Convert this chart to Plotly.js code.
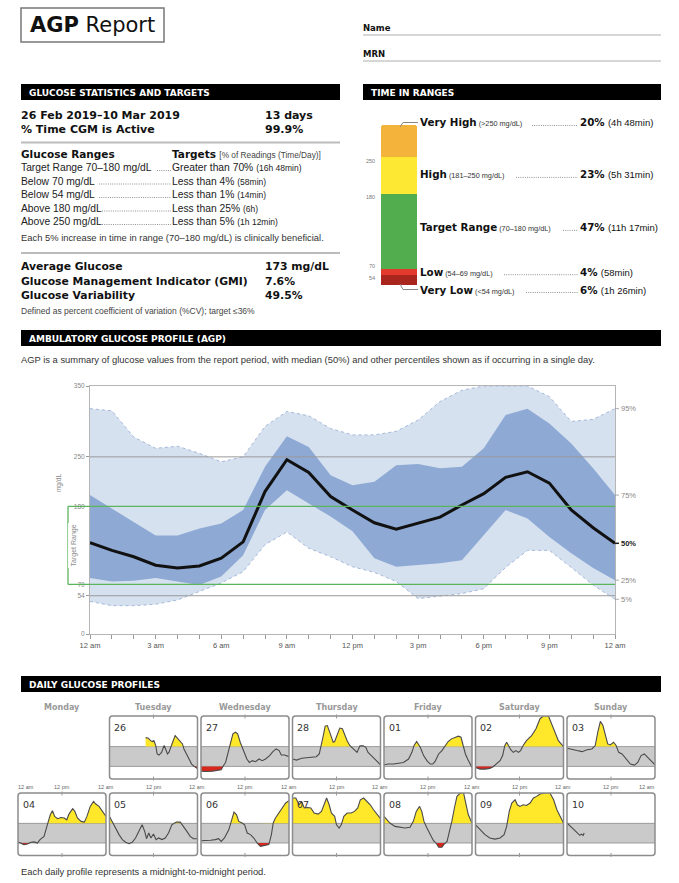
<!DOCTYPE html>
<html><head><meta charset="utf-8">
<script src="https://cdn.plot.ly/plotly-3.0.1.min.js"></script>
<style>html,body{margin:0;padding:0;background:#fff}#chart{width:679px;height:883px}</style>
</head><body><div id="chart"></div>
<script>
// ================= DATA =================
const reportPeriod = '26 Feb 2019–10 Mar 2019';
const reportDays = '13 days';
const cgmActive = '99.9%';
const rangeLabels = ['Target Range 70–180 mg/dL','Below 70 mg/dL','Below 54 mg/dL','Above 180 mg/dL','Above 250 mg/dL'];
const targetLabels = ['Greater than 70%','Less than 4%','Less than 1%','Less than 25%','Less than 5%'];
const targetTimes = ['(16h 48min)','(58min)','(14min)','(6h)','(1h 12min)'];
const summaryLabels = ['Average Glucose','Glucose Management Indicator (GMI)','Glucose Variability'];
const summaryValues = ['173 mg/dL','7.6%','49.5%'];

const tirNames = ['Very Low','Low','Target Range','High','Very High'];
const tirRanges = ['(&lt;54 mg/dL)','(54–69 mg/dL)','(70–180 mg/dL)','(181–250 mg/dL)','(&gt;250 mg/dL)'];
const tirPercent = [6,4,47,23,20];
const tirTimes = ['(1h 26min)','(58min)','(11h 17min)','(5h 31min)','(4h 48min)'];
const tirBoundLabels = ['54','70','180','250'];

const agpHours = [0,1,2,3,4,5,6,7,8,9,10,11,12,13,14,15,16,17,18,19,20,21,22,23,24];
const hourLabels = ['12 am','','','3 am','','','6 am','','','9 am','','','12 pm','','','3 pm','','','6 pm','','','9 pm','','','12 am'];
const agpTickVals = [0,54,70,180,250,350];
const p95 = [318,315,278,262,265,255,243,250,293,314,308,290,281,281,286,302,328,344,350,350,350,335,300,303,318];
const p75 = [196,177,158,139,139,149,156,175,236,279,264,224,210,215,238,240,234,236,262,309,318,297,269,234,196];
const p50 = [129,118,109,97,93,96,107,130,201,246,228,194,175,157,148,156,165,182,198,221,229,213,175,150,128];
const p25 = [79,74,75,79,74,69,81,111,175,203,184,166,145,107,95,97,100,104,140,175,163,137,114,93,76];
const p5  = [46,40,40,42,48,60,72,88,126,144,121,109,95,87,74,50,53,57,64,94,118,118,94,69,49];
const pctNames = ['95%','75%','50%','25%','5%'];

const weekdays = ['Monday','Tuesday','Wednesday','Thursday','Friday','Saturday','Sunday'];
const dayDates = ['26','27','28','01','02','03','04','05','06','07','08','09','10'];
const firstWeekday = 1; // Tuesday

const t26 = [9.85,10.6,11.2,11.7,12.1,12.6,13,13.5,14.2,14.9,15.3,15.8,16.2,16.7,17.2,17.9,18.5,19.2,19.9,20.3,21,21.7,22.4,23.1,23.7,24];
const g26 = [230,227,213,208,213,186,139,133,148,186,167,139,148,176,213,241,227,208,195,167,139,111,83,70,59,58];
const t27 = [0,1.4,3.2,4.3,5.5,6.1,6.7,7.3,7.9,8.7,9.4,10,10.7,11.2,11.9,12.5,13.2,14,14.9,15.8,16.7,17.6,18.7,19.6,20.5,21.3,21.9,22.8,24];
const g27 = [44,42,44,46,51,74,92,139,195,251,260,251,204,176,139,111,92,102,96,111,102,111,130,152,167,158,133,133,124];
const t28 = [0,1.1,2.5,3.8,5.2,6.5,7.3,7.9,8.4,8.9,9.5,10,10.7,11.1,11.5,12.2,12.9,13.6,14.3,14.9,15.6,16.4,17,17.6,18.4,19.3,20,20.6,21.5,22.5,23.4,24];
const g28 = [111,105,115,117,120,124,139,186,241,294,297,269,232,204,208,251,283,279,241,213,186,171,158,148,184,184,176,148,130,111,92,79];
const t01 = [0,1.2,2.6,3.9,5.3,6.7,7.6,8.2,8.9,9.6,10,10.8,11.7,12.6,13.3,13.9,14.9,15.8,16.7,17.5,18.4,19.4,20.3,21,21.5,22.2,22.8,23.5,24];
const g01 = [79,83,83,87,92,111,148,186,208,186,171,130,102,83,83,96,139,158,186,208,223,232,238,232,186,139,111,79,64];
const t02 = [0,1.2,2.6,3.9,4.8,5.7,6.7,7.4,8,8.5,8.9,9.6,10.3,11,11.7,12.3,13,13.9,15.3,16.5,17.6,18.5,19.9,20.8,21.7,22.6,24];
const g02 = [64,55,55,59,68,83,102,130,186,204,186,163,148,158,148,158,186,213,241,279,335,350,350,307,260,213,180];
const t03 = [0,1.4,2.7,4.1,5.5,6.8,7.7,8.4,9.1,9.8,10.5,11.1,11.8,12.7,13.4,14.1,15,16.2,17.3,18.4,19.3,20.2,21.1,22,23.2,24];
const g03 = [171,163,158,152,163,167,186,260,320,297,232,195,189,204,186,148,139,111,83,77,92,130,139,120,92,79];
const t04 = [0,0.7,1.6,2.6,3.5,4.4,5.3,6,7.1,8,8.8,9.4,10,10.8,11.7,12.6,13.3,13.9,14.9,15.5,16.2,17.2,18.1,18.8,19.7,20.6,21.2,22.1,23,24];
const g04 = [76,70,61,64,74,76,70,89,107,172,228,251,219,206,213,210,200,232,262,247,210,191,187,219,275,303,288,275,251,219];
const t05 = [0,0.7,1.6,2.6,3.5,4.4,5.3,6.2,7.1,8,8.9,9.6,10.1,10.7,11.3,12,12.7,13.4,14.3,15.2,16.1,17,18.2,19.3,20.2,21.1,22,22.9,24];
const g05 = [219,191,154,117,89,74,66,74,98,135,172,135,94,126,98,120,89,98,89,98,126,172,187,187,163,135,107,94,94];
const t06 = [0,1.2,2.6,3.9,4.8,5.5,6.4,7.6,8.2,9,9.7,10.3,11.2,11.9,12.6,13.5,14.4,15.3,16.2,17.2,18.5,19.2,19.7,20.3,21.3,22.2,23.1,24];
const g06 = [83,83,85,89,94,79,98,145,191,243,228,191,182,172,126,117,98,70,51,57,61,117,182,210,238,269,294,307];
const t07 = [0,0.9,1.8,2.5,3.2,4.1,5,5.9,7,7.9,8.6,9.3,10,10.6,11.5,12,12.7,13.3,14,14.9,16,16.9,17.8,18.5,19.4,20.3,21.2,22.1,23.2,24];
const g07 = [322,322,284,303,266,269,266,238,232,247,284,322,284,238,219,172,154,172,219,238,238,247,266,312,322,303,284,256,228,206];
const t08 = [0,0.7,1.6,3,4.4,5.7,7.1,8,8.8,9.7,10.3,10.9,11.7,12.6,13.5,14.2,14.9,15.8,16.4,17.2,17.9,18.5,19.2,19.9,20.8,21.7,22.4,23,24];
const g08 = [219,200,182,163,158,154,158,191,247,275,247,191,154,117,83,70,46,46,64,79,135,191,266,331,350,350,284,228,182];
const t09 = [0,1.2,2.6,3.9,5.3,6.7,7.8,8.5,9.2,9.9,10.8,11.4,12.1,13,13.9,14.9,15.8,16.7,17.6,19,20.3,21.3,22.2,23.1,24];
const g09 = [172,145,117,98,92,98,117,163,247,294,312,284,275,284,280,294,322,331,344,350,350,312,256,219,182];
const t10 = [0,0.9,1.8,2.7,3.5,3.9,4.4,4.7];
const g10 = [182,163,145,126,113,120,113,126];
const dayTimes = [t26,t27,t28,t01,t02,t03,t04,t05,t06,t07,t08,t09,t10];
const dayGlucose = [g26,g27,g28,g01,g02,g03,g04,g05,g06,g07,g08,g09,g10];

// ================= HELPERS =================
const W = 679, H = 883;
const px = x => x / W;
const py = y => 1 - y / H;
const DV = 'DejaVu Sans';
const LS = 'Liberation Sans, Arial, sans-serif';
const annotations = [];
const shapes = [];
const traces = [];
const DOTS = '1px,1.2px';

function ann(x, y, text, size, o = {}) {
  annotations.push(Object.assign({
    xref: 'paper', yref: 'paper', x: px(x), y: py(y), text: text, showarrow: false,
    xanchor: 'left', yanchor: 'middle', borderpad: 0, borderwidth: 0,
    font: {family: o.family || DV, size: size, color: o.color || '#111'}
  }, o.extra || {}));
}
function rectPx(x0, y0, x1, y1, o = {}) {
  shapes.push(Object.assign({type: 'rect', xref: 'paper', yref: 'paper', x0: px(x0), x1: px(x1), y0: py(y1), y1: py(y0),
    fillcolor: o.fill || 'rgba(0,0,0,0)', line: {color: o.lc || 'rgba(0,0,0,0)', width: o.lw || 0}, layer: 'above'}));
}
function linePx(x0, y0, x1, y1, color, width, dash) {
  shapes.push({type: 'line', xref: 'paper', yref: 'paper', x0: px(x0), y0: py(y0), x1: px(x1), y1: py(y1),
    line: {color: color, width: width, dash: dash || 'solid'}, layer: 'above'});
}
function rrPath(x0, y0, x1, y1, r) {
  const X = v => px(v).toFixed(5), Y = v => py(v).toFixed(5);
  return `M${X(x0+r)},${Y(y0)} L${X(x1-r)},${Y(y0)} Q${X(x1)},${Y(y0)} ${X(x1)},${Y(y0+r)} L${X(x1)},${Y(y1-r)} Q${X(x1)},${Y(y1)} ${X(x1-r)},${Y(y1)} L${X(x0+r)},${Y(y1)} Q${X(x0)},${Y(y1)} ${X(x0)},${Y(y1-r)} L${X(x0)},${Y(y0+r)} Q${X(x0)},${Y(y0)} ${X(x0+r)},${Y(y0)} Z`;
}
// clip the region between the series and a threshold (geometry only)
function clipRegion(t, g, thr, above) {
  const xs = [], ys = [];
  for (let i = 0; i < t.length; i++) {
    if (i > 0) {
      const a = g[i-1] - thr, b = g[i] - thr;
      if (a * b < 0) { const f = a / (a - b); xs.push(t[i-1] + f * (t[i] - t[i-1])); ys.push(thr); }
    }
    xs.push(t[i]); ys.push(above ? Math.max(g[i], thr) : Math.min(g[i], thr));
  }
  xs.push(t[t.length-1], t[0]); ys.push(thr, thr);
  return {xs, ys};
}

// ================= HEADER =================
shapes.push({type: 'rect', xref: 'paper', yref: 'paper', x0: px(21), x1: px(164), y0: py(42), y1: py(8),
  line: {color: '#777', width: 1.5}, fillcolor: 'rgba(0,0,0,0)', layer: 'above'});
ann(92.5, 25, '<b>AGP</b> Report', 21, {extra: {xanchor: 'center'}});
ann(363, 28, '<b>Name</b>', 8.5);
ann(363, 54, '<b>MRN</b>', 8.5);
linePx(363, 35, 661, 35, '#999', 0.8);
linePx(363, 61, 661, 61, '#999', 0.8);

const bars = [[21, 84, 340, 100, 'GLUCOSE STATISTICS AND TARGETS'], [363, 84, 661, 100, 'TIME IN RANGES'],
  [21, 330, 661, 346, 'AMBULATORY GLUCOSE PROFILE (AGP)'], [21, 676, 661, 692, 'DAILY GLUCOSE PROFILES']];
bars.forEach(b => { rectPx(b[0], b[1], b[2], b[3], {fill: '#000'}); ann(b[0] + 8, (b[1] + b[3]) / 2 + 0.5, '<b>' + b[4] + '</b>', 9, {color: '#fff'}); });

// ================= STATISTICS =================
ann(21, 115, '<b>' + reportPeriod + '</b>', 11);
ann(265, 115, '<b>' + reportDays + '</b>', 11);
ann(21, 129, '<b>% Time CGM is Active</b>', 11);
ann(265, 129, '<b>' + cgmActive + '</b>', 11);
linePx(21, 142.5, 340, 142.5, '#bbb', 2);
ann(21, 154, '<b>Glucose Ranges</b>', 10.5);
ann(172, 154, '<b>Targets</b> <span style="font-family:Liberation Sans;font-size:8.3px;color:#444">[% of Readings (Time/Day)]</span>', 10.5);
const rowY = [167.5, 181, 194.5, 208, 221.5];
const leaderStart = [157, 99, 99, 102, 102];
rangeLabels.forEach((lab, i) => {
  ann(21, rowY[i], lab, 10.3, {family: LS, color: '#222'});
  ann(172, rowY[i], targetLabels[i] + ' <span style="font-size:8.5px">' + targetTimes[i] + '</span>', 10.3, {family: LS, color: '#222'});
  linePx(leaderStart[i], rowY[i] + 3, 171, rowY[i] + 3, '#777', 0.8, DOTS);
});
ann(21, 237.5, 'Each 5% increase in time in range (70–180 mg/dL) is clinically beneficial.', 9.4, {family: LS, color: '#333'});
linePx(21, 253, 340, 253, '#bbb', 2);
const sumY = [267, 281, 295];
summaryLabels.forEach((lab, i) => {
  ann(21, sumY[i], '<b>' + lab + '</b>', 10.8);
  ann(265, sumY[i], '<b>' + summaryValues[i] + '</b>', 10.8);
});
ann(21, 311, 'Defined as percent coefficient of variation (%CV); target ≤36%', 8.5, {family: LS, color: '#444'});

// ================= TIME IN RANGES =================
const tirColors = ['#a8261d', '#e23b2e', '#52ad4f', '#fde934', '#f4b33a'];
tirPercent.forEach((v, i) => {
  traces.push({type: 'bar', x: [0], y: [v], width: [1], xaxis: 'x2', yaxis: 'y2',
    marker: {color: tirColors[i], line: {width: 0}}, hoverinfo: 'skip'});
});
const tirTop = 125, tirBot = 285;
const tirPx = v => tirBot - v / 100 * (tirBot - tirTop);
const cum = [0];
tirPercent.forEach(v => cum.push(cum[cum.length - 1] + v));
const boundShift = [2.5, -3, 3, 4];
tirBoundLabels.forEach((lab, i) => {
  ann(375, tirPx(cum[i + 1]) + boundShift[i], lab, 5.5, {family: LS, color: '#777', extra: {xanchor: 'right'}});
});
const labY = [tirPx(0) + 4.5, tirPx((cum[1] + cum[2]) / 2) - 0.5, tirPx((cum[2] + cum[3]) / 2) - 4, tirPx((cum[3] + cum[4]) / 2) - 1, tirPx(100) - 2.5];
const leaderFrom = [526, 504, 563, 516, 532];
tirNames.forEach((nm, i) => {
  ann(420, labY[i], '<b>' + nm + '</b><span style="font-family:Liberation Sans;font-size:7.3px;color:#333"> ' + tirRanges[i] + '</span>', 10.3);
  ann(580, labY[i], '<b>' + tirPercent[i] + '%</b> <span style="font-family:Liberation Sans;font-size:9.5px">' + tirTimes[i] + '</span>', 10.3);
  linePx(leaderFrom[i], labY[i] + 3, 578, labY[i] + 3, '#777', 0.8, DOTS);
});
shapes.push({type: 'path', xref: 'paper', yref: 'paper', layer: 'above', line: {color: '#888', width: 1}, fillcolor: 'rgba(0,0,0,0)',
  path: `M${px(400)},${py(tirTop + 2)} L${px(403)},${py(labY[4])} L${px(418)},${py(labY[4])}`});
shapes.push({type: 'path', xref: 'paper', yref: 'paper', layer: 'above', line: {color: '#888', width: 1}, fillcolor: 'rgba(0,0,0,0)',
  path: `M${px(400)},${py(tirBot - 1)} L${px(403)},${py(labY[0])} L${px(418)},${py(labY[0])}`});

// ================= AGP =================
ann(21, 360, 'AGP is a summary of glucose values from the report period, with median (50%) and other percentiles shown as if occurring in a single day.', 9.4, {family: LS, color: '#333'});
const bandEdge = '#a3b8d9';
traces.push({x: agpHours, y: p5, mode: 'lines', line: {color: bandEdge, width: 1, dash: 'dot'}, hoverinfo: 'skip'});
traces.push({x: agpHours, y: p95, mode: 'lines', fill: 'tonexty', fillcolor: '#d6e1f0', line: {color: bandEdge, width: 1, dash: 'dot'}, hoverinfo: 'skip'});
traces.push({x: agpHours, y: p25, mode: 'lines', line: {color: 'rgba(0,0,0,0)', width: 0}, hoverinfo: 'skip'});
traces.push({x: agpHours, y: p75, mode: 'lines', fill: 'tonexty', fillcolor: '#8eaad4', line: {color: 'rgba(0,0,0,0)', width: 0}, hoverinfo: 'skip'});
traces.push({x: agpHours, y: p50, mode: 'lines', line: {color: '#111', width: 3}, hoverinfo: 'skip'});
[250, 54].forEach(v => shapes.push({type: 'line', xref: 'x', yref: 'y', x0: 0, x1: 24, y0: v, y1: v, line: {color: '#9a9a9a', width: 1}, layer: 'above'}));
const green = '#5cb55c';
[70, 180].forEach(v => shapes.push({type: 'line', xref: 'paper', yref: 'y', x0: px(68), x1: px(615), y0: v, y1: v, line: {color: green, width: 1.3}, layer: 'above'}));
shapes.push({type: 'line', xref: 'paper', yref: 'y', x0: px(68), x1: px(68), y0: 70, y1: 180, line: {color: green, width: 1.3}, layer: 'above'});
annotations.push({xref: 'paper', yref: 'y', x: px(68), y: 125, text: 'Target Range', textangle: -90, showarrow: false,
  bgcolor: '#fff', borderpad: 1, font: {family: LS, size: 7, color: '#888'}});
annotations.push({xref: 'paper', yref: 'y', x: px(53), y: 213, text: 'mg/dL', textangle: -90, showarrow: false,
  font: {family: LS, size: 6.5, color: '#888'}});
const lastVals = [p95[24], p75[24], p50[24], p25[24], p5[24]];
pctNames.forEach((nm, i) => {
  const bold = nm === '50%';
  shapes.push({type: 'line', xref: 'paper', yref: 'y', x0: px(615), x1: px(619), y0: lastVals[i], y1: lastVals[i],
    line: {color: bold ? '#222' : '#999', width: bold ? 1.5 : 0.8}, layer: 'above'});
  annotations.push({xref: 'paper', yref: 'y', x: px(620), y: lastVals[i], text: bold ? '<b>' + nm + '</b>' : nm,
    showarrow: false, xanchor: 'left', yanchor: 'middle', borderpad: 0,
    font: {family: LS, size: 7.5, color: bold ? '#222' : '#888'}});
});

// ================= DAILY PROFILES =================
const colLeft = c => 18 + 91.5 * c;
const panelW = 88;
const rowTop = [716, 793], rowBot = [779, 855.5];
weekdays.forEach((d, c) => ann(colLeft(c) + panelW / 2, 707, '<b>' + d + '</b>', 8, {color: '#999', extra: {xanchor: 'center'}}));
const YEL = '#ffe82a', RED = '#d9261c';
const layoutAxes = {};
dayDates.forEach((dt, i) => {
  const slot = i + firstWeekday;
  const row = Math.floor(slot / 7), col = slot % 7;
  const l = colLeft(col), r = l + panelW, tp = rowTop[row], bt = rowBot[row];
  const n = i + 3, xa = 'x' + n, ya = 'y' + n;
  layoutAxes['xaxis' + n] = {domain: [px(l), px(r)], range: [0, 24], anchor: ya, visible: false, fixedrange: true};
  layoutAxes['yaxis' + n] = {domain: [py(bt), py(tp)], range: [0, 350], anchor: xa, visible: false, fixedrange: true};
  shapes.push({type: 'rect', xref: xa, yref: ya, x0: 0, x1: 24, y0: 70, y1: 180, fillcolor: '#cacaca', line: {width: 0}, layer: 'below'});
  [70, 180].forEach(v => shapes.push({type: 'line', xref: xa, yref: ya, x0: 0, x1: 24, y0: v, y1: v, line: {color: '#8a8a8a', width: 0.8}, layer: 'below'}));
  const t = dayTimes[i], g = dayGlucose[i];
  const hi = clipRegion(t, g, 180, true), lo = clipRegion(t, g, 70, false);
  traces.push({x: hi.xs, y: hi.ys, xaxis: xa, yaxis: ya, mode: 'lines', fill: 'toself', fillcolor: YEL, line: {width: 0, color: YEL}, hoverinfo: 'skip'});
  traces.push({x: lo.xs, y: lo.ys, xaxis: xa, yaxis: ya, mode: 'lines', fill: 'toself', fillcolor: RED, line: {width: 0, color: RED}, hoverinfo: 'skip'});
  traces.push({x: t, y: g, xaxis: xa, yaxis: ya, mode: 'lines', line: {color: '#4a4a4a', width: 1.1}, hoverinfo: 'skip'});
  shapes.push({type: 'path', xref: 'paper', yref: 'paper', path: rrPath(l, tp, r, bt, 3), line: {color: '#8c8c8c', width: 1.5}, fillcolor: 'rgba(0,0,0,0)', layer: 'above'});
  const mid = (l + r) / 2;
  linePx(mid, tp - 1.5, mid, tp + 2.5, '#999', 1);
  linePx(mid, bt - 2.5, mid, bt + 1.5, '#999', 1);
  ann(l + 4.5, tp + 11, dt, 9.5, {color: '#333'});
});
const tlY = 787;
for (let c = 0; c < 7; c++) {
  const l = colLeft(c);
  ann(l + panelW / 2, tlY, '12 pm', 5.5, {family: LS, color: '#666', extra: {xanchor: 'center'}});
  if (c === 0) ann(l, tlY, '12 am', 5.5, {family: LS, color: '#666'});
  else ann((colLeft(c - 1) + panelW + l) / 2 - 2, tlY, '12 am', 5.5, {family: LS, color: '#666', extra: {xanchor: 'center'}});
}
ann(colLeft(6) + panelW, tlY, '12 am', 5.5, {family: LS, color: '#666', extra: {xanchor: 'right'}});
ann(21, 871, 'Each daily profile represents a midnight-to-midnight period.', 9.4, {family: LS, color: '#333'});

// ================= LAYOUT =================
const layout = Object.assign({
  width: W, height: H, margin: {l: 0, r: 0, t: 0, b: 0, pad: 0}, paper_bgcolor: '#fff', plot_bgcolor: 'rgba(0,0,0,0)',
  showlegend: false, barmode: 'stack', bargap: 0, barcornerradius: 3,
  xaxis: {domain: [px(90), px(615)], range: [0, 24], anchor: 'y', tickvals: agpHours, ticktext: hourLabels,
    ticks: 'outside', ticklen: 4, tickcolor: '#999', showgrid: false, zeroline: false, showline: true, linecolor: '#b5b5b5', linewidth: 1, mirror: true,
    tickfont: {family: LS, size: 7.5, color: '#555'}, fixedrange: true},
  yaxis: {domain: [py(634), py(386)], range: [0, 350], anchor: 'x', tickvals: agpTickVals, ticktext: agpTickVals.map(String),
    ticks: 'outside', ticklen: 3, tickcolor: '#999', showgrid: false, zeroline: false, showline: true, linecolor: '#b5b5b5', linewidth: 1, mirror: true,
    tickfont: {family: LS, size: 6.5, color: '#888'}, fixedrange: true},
  xaxis2: {domain: [px(381), px(417)], range: [-0.5, 0.5], anchor: 'y2', visible: false, fixedrange: true},
  yaxis2: {domain: [py(tirBot), py(tirTop)], range: [0, 100], anchor: 'x2', visible: false, fixedrange: true},
  shapes: shapes, annotations: annotations
}, layoutAxes);

Plotly.newPlot('chart', traces, layout, {staticPlot: true, displayModeBar: false});
</script></body></html>
